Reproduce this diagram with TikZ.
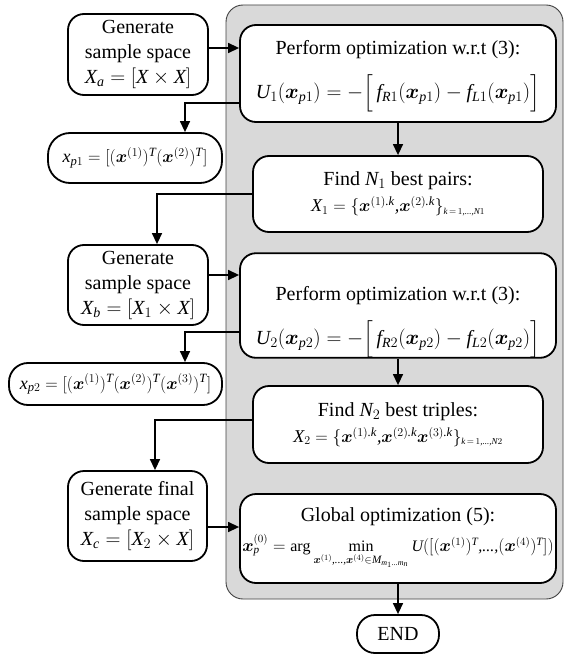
\documentclass[tikz,border=0pt]{standalone}
\usepackage{amsmath}
\usepackage{bm}
\usepackage{fontspec}
\setmainfont{Liberation Serif}
\newfontfamily\timesfam[NFSSFamily=ltimes]{Liberation Serif}
\DeclareSymbolFont{letters}{TU}{ltimes}{m}{it}
\SetSymbolFont{letters}{bold}{TU}{ltimes}{b}{it}
\DeclareSymbolFont{operators}{TU}{ltimes}{m}{n}
\SetSymbolFont{operators}{bold}{TU}{ltimes}{b}{n}
\DeclareMathSymbol{,}{\mathpunct}{letters}{"2C}
\DeclareMathSymbol{.}{\mathord}{letters}{"2E}
\DeclareMathSymbol{\ldotp}{\mathpunct}{letters}{"2E}
\usetikzlibrary{arrows.meta,calc}
\definecolor{panelgray}{HTML}{D9D9D9}
\definecolor{paneledge}{HTML}{404040}
\newcommand{\fsmain}{\fontsize{20}{25}\selectfont}
\newcommand{\fsmid}{\fontsize{18}{22}\selectfont}
\newcommand{\fssmall}{\fontsize{16}{20}\selectfont}
\newcommand{\tdots}{{.}{.}{.}}
\tikzset{
  box/.style={draw, line width=1.8pt, rounded corners=16pt, fill=white, align=center, inner sep=0pt, font=\fsmain},
  pill/.style={box, rounded corners=19pt},
  panelbox/.style={draw=paneledge, line width=0.9pt, fill=panelgray, rounded corners=17pt, inner sep=0pt},
  arr/.style={line width=1.4pt, -{Triangle[length=11pt,width=10pt]}},
}
\begin{document}
\begin{tikzpicture}[x=1pt,y=1pt]
\useasboundingbox (0,0) rectangle (564,-655);
\node[panelbox, minimum width=337pt, minimum height=594pt] (panel) at (394.5,-302) {};

\node[box, minimum width=140pt, minimum height=81pt] (gen1) at (138,-54.5)
  {Generate\\sample space\\$X_a = [X\times X]$};
\node[box, minimum width=316pt, minimum height=97pt] (opt1) at (398,-73.5)
  {\rule{0pt}{19.5pt}Perform optimization w.r.t (3):\\[15pt]$U_1(\bm{x}_{p1}) = -\Big[\,f_{R1}(\bm{x}_{p1}) - f_{L1}(\bm{x}_{p1})\Big]$};
\node[pill, minimum width=174pt, minimum height=50pt, rounded corners=22pt, font=\fsmid] (xp1) at (135,-158)
  {$x_{p1} = [(\bm{x}^{(1)})^T(\bm{x}^{(2)})^T]$};
\node[box, minimum width=290pt, minimum height=76pt] (find1) at (398,-194)
  {Find $N_1$ best pairs:\\[1pt]{\fsmid$X_1 = \{\bm{x}^{(1).k}{,}\bm{x}^{(2).k}\}_{\scriptscriptstyle k\,=\,1{,}\tdots{,}N1}$}};
\node[box, minimum width=140pt, minimum height=80pt] (gen2) at (138,-285)
  {Generate\\sample space\\$X_b = [X_1\times X]$};
\node[box, minimum width=316pt, minimum height=97pt] (opt2) at (398,-305.5)
  {\rule{0pt}{47pt}Perform optimization w.r.t (3):\\[15pt]$U_2(\bm{x}_{p2}) = -\Big[\,f_{R2}(\bm{x}_{p2}) - f_{L2}(\bm{x}_{p2})\Big]$};
\node[pill, minimum width=213pt, minimum height=42pt, font=\fsmid] (xp2) at (115.5,-384)
  {$x_{p2} = [(\bm{x}^{(1)})^T(\bm{x}^{(2)})^T(\bm{x}^{(3)})^T]$};
\node[box, minimum width=290pt, minimum height=77pt] (find2) at (398,-424.5)
  {Find $N_2$ best triples:\\[1pt]{\fsmid$X_2 = \{\bm{x}^{(1).k}{,}\bm{x}^{(2).k}\bm{x}^{(3).k}\}_{\scriptscriptstyle k\,=\,1{,}\tdots{,}N2}$}};
\node[box, minimum width=139pt, minimum height=90pt] (gen3) at (137.5,-516)
  {Generate final\\sample space\\$X_c = [X_2\times X]$};
\node[box, minimum width=316pt, minimum height=89pt] (glob) at (398,-538.5)
  {Global optimization (5):\\[5pt]{\fssmall$\bm{x}_p^{(0)} = \arg\min\limits_{\bm{x}^{(1)}{,}\tdots{,}\bm{x}^{(4)}\in M_{m_1\tdots m_n}} U([(\bm{x}^{(1)})^T{,}\tdots{,}(\bm{x}^{(4)})^T])$}};
\node[pill, minimum width=82pt, minimum height=38pt, rounded corners=18pt] (endn) at (398,-634) {END};

% connectors
\path ([yshift=6.5pt]gen1.east) coordinate (g1o);
\draw[arr] (g1o) -- (g1o -| opt1.west);
\draw[arr] ([yshift=-29.5pt]opt1.west) -| ([xshift=50pt]xp1.north);
\draw[arr] (opt1.south -| find1.north) -- (find1.north);
\draw[arr] (find1.west) -| ([xshift=19pt]gen2.north);
\path ([yshift=10pt]gen2.east) coordinate (g2o);
\draw[arr] (g2o) -- (g2o -| opt2.west);
\draw[arr] ([yshift=-26.5pt]opt2.west) -| ([xshift=69.5pt]xp2.north);
\draw[arr] (opt2.south -| find2.north) -- (find2.north);
\draw[arr] ([yshift=4.5pt]find2.west) -| ([xshift=17.5pt]gen3.north);
\path ([yshift=-11pt]gen3.east) coordinate (g3o);
\draw[arr] (g3o) -- (g3o -| glob.west);
\draw[arr] (glob.south -| endn.north) -- (endn.north);
\end{tikzpicture}
\end{document}
